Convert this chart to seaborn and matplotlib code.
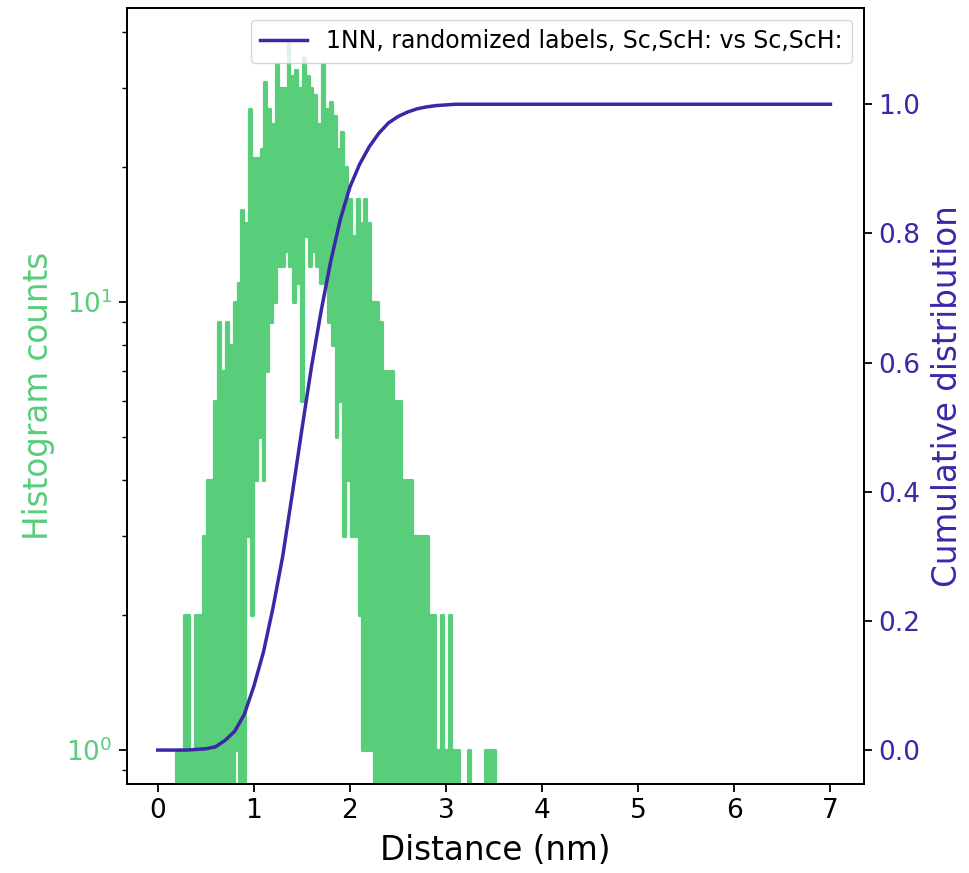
import numpy as np
import matplotlib
matplotlib.use('Agg')
import matplotlib.pyplot as plt
import seaborn as sns

# ---- data ----
# histogram of 1NN distances, 0.02 nm bins starting at 0.16 nm
hist_start = 0.16
bin_width = 0.02
hist_counts = [
    0, 0, 1, 0, 1, 0, 2, 0, 2, 0,           # 0.16 - 0.34
    1, 0, 2, 0, 2, 0, 3, 0, 4, 0,           # 0.36 - 0.54
    4, 0, 6, 0, 9, 0, 7, 0, 9, 0,           # 0.56 - 0.74
    8, 0, 10, 1, 11, 0, 16, 0, 15, 3,       # 0.76 - 0.94
    27, 2, 21, 4, 21, 5, 22, 4, 31, 7,      # 0.96 - 1.14
    27, 9, 25, 10, 34, 12, 30, 12, 30, 13,  # 1.16 - 1.34
    38, 12, 32, 10, 33, 11, 30, 6, 35, 14,  # 1.36 - 1.54
    32, 12, 30, 13, 29, 12, 25, 11, 34, 11,  # 1.56 - 1.74
    27, 9, 28, 8, 26, 5, 22, 6, 24, 3,      # 1.76 - 1.94
    20, 4, 17, 3, 14, 3, 17, 2, 15, 1,      # 1.96 - 2.14
    17, 1, 15, 1, 10, 0, 10, 0, 9, 0,       # 2.16 - 2.34
    7, 0, 7, 0, 7, 0, 6, 0, 6, 0,           # 2.36 - 2.54
    4, 0, 4, 0, 4, 0, 3, 0, 3, 0,           # 2.56 - 2.74
    3, 0, 3, 0, 2, 0, 2, 0, 1, 0,           # 2.76 - 2.94
    2, 0, 1, 0, 2, 0, 1, 0, 1, 0,           # 2.96 - 3.14
    0, 0, 0, 0, 1, 0, 0, 0, 0, 0,           # 3.16 - 3.34
    0, 0, 0, 1, 0, 1, 0, 1, 0, 0,           # 3.36 - 3.54
]

# cumulative distribution curve
cdf_x = [0.0, 0.1, 0.2, 0.3, 0.4, 0.5, 0.6, 0.7, 0.8, 0.9,
         1.0, 1.1, 1.2, 1.3, 1.4, 1.5, 1.6, 1.7, 1.8, 1.9,
         2.0, 2.1, 2.2, 2.3, 2.4, 2.5, 2.6, 2.7, 2.8, 2.9,
         3.0, 3.1, 3.2, 7.0]
cdf_y = [0.0, 0.0, 0.0, 0.0, 0.001, 0.002, 0.005, 0.015, 0.029, 0.055,
         0.099, 0.152, 0.221, 0.300, 0.397, 0.497, 0.594, 0.680, 0.757, 0.822,
         0.872, 0.907, 0.934, 0.955, 0.971, 0.981, 0.988, 0.993, 0.996, 0.998,
         0.999, 1.0, 1.0, 1.0]

legend_label = '1NN, randomized labels, Sc,ScH: vs Sc,ScH:'

GREEN = '#58cd7a'
BLUE = '#3b27a8'

plt.rcParams.update({
    'xtick.labelsize': 19,
    'ytick.labelsize': 19,
    'axes.linewidth': 1.3,
    'xtick.major.size': 5.8,
    'ytick.major.size': 5.8,
    'ytick.minor.size': 3.3,
    'xtick.major.width': 1.3,
    'ytick.major.width': 1.3,
    'ytick.minor.width': 1.0,
    'xtick.major.pad': 4.5,
    'ytick.major.pad': 4.5,
    'ytick.minor.pad': 4.5,
})

hist_x = np.round(hist_start + bin_width * np.arange(len(hist_counts)), 2)

fig = plt.figure(figsize=(9.69, 8.73), dpi=100)
ax = fig.add_axes([0.1311, 0.1019, 0.7606, 0.8889])

sns.lineplot(x=hist_x, y=hist_counts, ax=ax, color=GREEN, lw=2.3,
             drawstyle='steps-mid', errorbar=None, legend=False)
ax.set_yscale('log')
ax.set_ylim(0.839, 45.3)
ax.set_xlabel('Distance (nm)', fontsize=23.5, labelpad=7)
ax.set_ylabel('Histogram counts', fontsize=23.5, color=GREEN, labelpad=8)
ax.tick_params(axis='y', which='both', labelcolor=GREEN)

ax2 = ax.twinx()
sns.lineplot(x=cdf_x, y=cdf_y, ax=ax2, color=BLUE, lw=2.5,
             errorbar=None, label=legend_label)
ax2.set_ylim(-0.0526, 1.149)
ax2.set_ylabel('Cumulative distribution', fontsize=23.5, color=BLUE, labelpad=8)
ax2.tick_params(axis='y', labelcolor=BLUE)
ax2.legend(loc='upper right', fontsize=17)

ax.set_xlim(-0.32, 7.35)
ax.set_xticks(range(8))

fig.savefig('out.png', dpi=100)
